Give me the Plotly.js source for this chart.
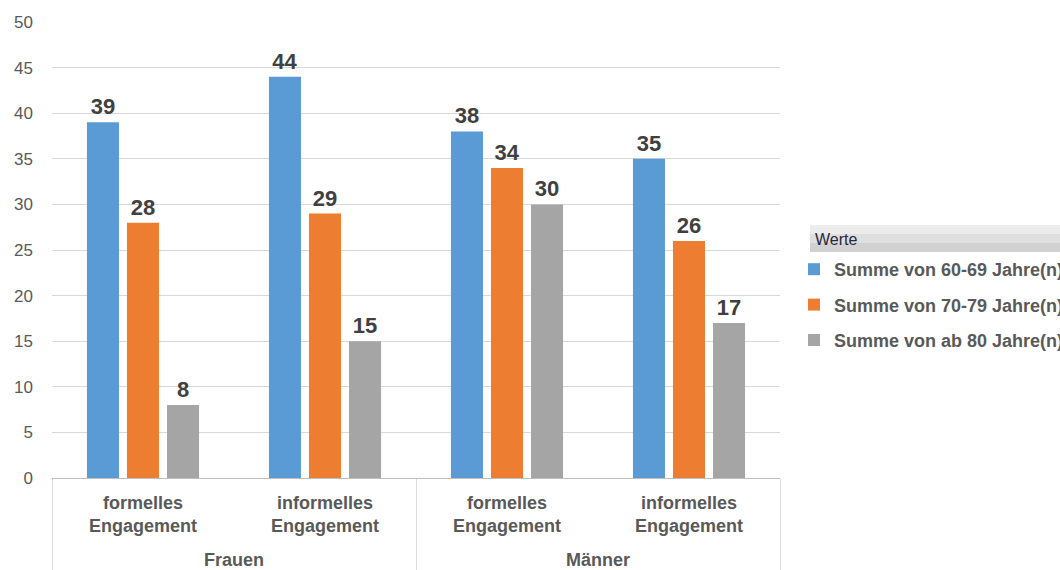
<!DOCTYPE html>
<html><head><meta charset="utf-8">
<script src="https://cdn.plot.ly/plotly-3.0.1.min.js"></script>
<style>html,body{margin:0;padding:0;background:#fff;overflow:hidden}#chart{width:1060px;height:570px}</style>
</head><body><div id="chart"></div>
<script>
var groups = ["Frauen", "Frauen", "Männer", "Männer"];
var categories = ["formelles<br>Engagement", "informelles<br>Engagement", "formelles<br>Engagement", "informelles<br>Engagement"];
var seriesNames = ["Summe von 60-69 Jahre(n)", "Summe von 70-79 Jahre(n)", "Summe von ab 80 Jahre(n)"];
var v6069 = [39, 44, 38, 35];
var v7079 = [28, 29, 34, 26];
var v80 = [8, 15, 30, 17];
var colors = ["#5b9bd5", "#ed7d31", "#a5a5a5"];
var yTicks = [0, 5, 10, 15, 20, 25, 30, 35, 40, 45, 50];

var FONT = "Liberation Sans, Arial, sans-serif";
// a small blank line under the inner labels gives room before the group labels
var catLabels = categories.map(function (c) { return c + "<br><span style='font-size:6px'>\u00a0</span>"; });
var vals = [v6069, v7079, v80];
var traces = vals.map(function (v, i) {
  return {
    type: "bar",
    x: [groups, catLabels],
    y: v,
    name: seriesNames[i],
    marker: { color: colors[i] },
    text: v.map(String),
    textposition: "outside",
    constraintext: "none",
    cliponaxis: false,
    textfont: { family: FONT, size: 22, color: "#404040", weight: "bold" },
    legendgroup: "g" + i,
    hoverinfo: "y"
  };
});

var H0 = 478, PH = 456, L0 = 52, PW = 728;
function px(x) { return (x - L0) / PW; }
function py(y) { return (H0 - y) / PH; }

var layout = {
  width: 1060, height: 570,
  margin: { l: 52, r: 280, t: 22, b: 92 },
  paper_bgcolor: "#fff", plot_bgcolor: "#fff",
  barmode: "group",
  bargap: 0.34,
  bargroupgap: 0.2,
  font: { family: FONT, color: "#595959" },
  xaxis: {
    type: "multicategory",
    showline: true, linecolor: "#bfbfbf", linewidth: 1,
    showdividers: true, dividercolor: "#d9d9d9", dividerwidth: 1,
    ticks: "", ticklabelstandoff: 8,
    tickfont: { family: FONT, size: 18, color: "#595959", weight: "bold" },
    showgrid: false
  },
  yaxis: {
    range: [0, 50],
    tickvals: yTicks,
    ticktext: yTicks.map(String),
    showgrid: true, gridcolor: "#d9d9d9", gridwidth: 1,
    zeroline: false, showline: false,
    ticks: "", ticklabelstandoff: 18,
    tickfont: { family: FONT, size: 17, color: "#595959" }
  },
  showlegend: true,
  legend: {
    xref: "container", yref: "container",
    x: 794 / 1060, y: 1 - 251 / 570,
    xanchor: "left", yanchor: "top",
    traceorder: "grouped",
    tracegroupgap: 9,
    itemwidth: 30,
    font: { family: FONT, size: 18, color: "#595959", weight: "bold" },
    bgcolor: "rgba(0,0,0,0)"
  },
  shapes: [
    { type: "rect", xref: "paper", yref: "paper", layer: "below",
      x0: px(810), x1: px(1070), y0: py(225), y1: py(234),
      fillcolor: "#ececec", line: { width: 0 } },
    { type: "rect", xref: "paper", yref: "paper", layer: "below",
      x0: px(810), x1: px(1070), y0: py(234), y1: py(243),
      fillcolor: "#dfdfdf", line: { width: 0 } },
    { type: "rect", xref: "paper", yref: "paper", layer: "below",
      x0: px(810), x1: px(1070), y0: py(243), y1: py(252),
      fillcolor: "#d1d1d1", line: { width: 0 } }
  ],
  annotations: [
    { xref: "paper", yref: "paper", x: px(813), y: py(239),
      xanchor: "left", yanchor: "middle", showarrow: false,
      text: "Werte", font: { family: FONT, size: 16, color: "#262640" } }
  ]
};

Plotly.newPlot("chart", traces, layout, { displayModeBar: false, staticPlot: true });
</script></body></html>
